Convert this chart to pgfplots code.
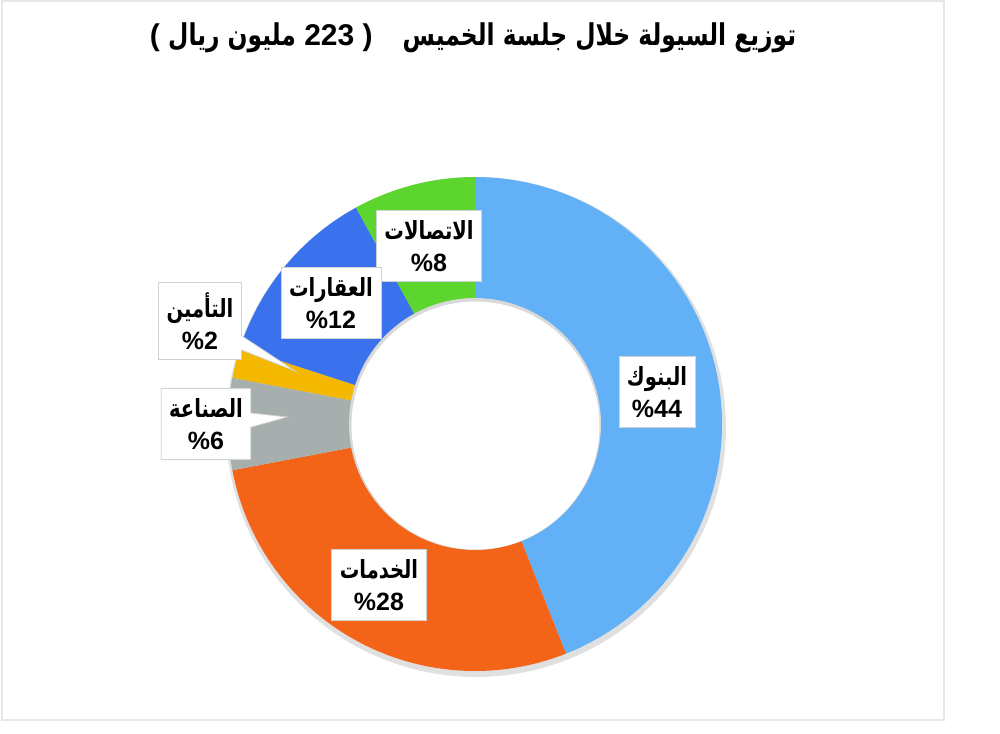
\documentclass[border=0pt]{standalone}
\usepackage{fontspec}
\usepackage{pgfplots}
\pgfplotsset{compat=1.18}
\usetikzlibrary{shapes.callouts}
\TeXXeTstate=1
\setmainfont{Liberation Sans}
\newfontfamily\arabicfont[Script=Arabic, FakeStretch=0.78]{DejaVu Sans}
\definecolor{cBank}{HTML}{62B0F6}
\definecolor{cServ}{HTML}{F36418}
\definecolor{cInd}{HTML}{A6AEAE}
\definecolor{cIns}{HTML}{F5B800}
\definecolor{cEst}{HTML}{3A72EE}
\definecolor{cTel}{HTML}{5CD62E}
\definecolor{cBorder}{HTML}{E3E8E8}
\tikzset{lbl/.style={draw=gray!35, fill=white, align=center, inner xsep=4pt, inner ysep=5pt,
    font=\fontsize{12.5}{16}\selectfont\bfseries, minimum width=36pt}}
\begin{document}
\begin{tikzpicture}
\begin{axis}[
  width=500pt, height=366.5pt, scale only axis,
  xmin=0, xmax=1000, ymin=0, ymax=733, y dir=reverse,
  hide axis, clip=false,
]
% bounding box and frame
\path[use as bounding box] (axis cs:0,0) rectangle (axis cs:1000,733);
\draw[cBorder, line width=0.8pt] (axis cs:2,1) rectangle (axis cs:944,720);
% soft shadow of the ring
\addplot[fill=gray!40, draw=none, opacity=0.6, domain=0:360, samples=120] ({476+250*cos(x)},{427-250*sin(x)}) -- cycle;
% slices (percent -> angle: 3.6 deg per percent, clockwise from 90 deg)
% Banks 44
\addplot[fill=cBank, draw=none, domain={90-3.6*44}:90, samples=80] ({475+247*cos(x)},{424-247*sin(x)}) -- (axis cs:475,424) -- cycle;
% Services 28
\addplot[fill=cServ, draw=none, domain={90-3.6*72}:{90-3.6*44}, samples=60] ({475+247*cos(x)},{424-247*sin(x)}) -- (axis cs:475,424) -- cycle;
% Industry 6
\addplot[fill=cInd, draw=none, domain={90-3.6*78}:{90-3.6*72}, samples=20] ({475+247*cos(x)},{424-247*sin(x)}) -- (axis cs:475,424) -- cycle;
% Insurance 2
\addplot[fill=cIns, draw=none, domain={90-3.6*80}:{90-3.6*78}, samples=10] ({475+247*cos(x)},{424-247*sin(x)}) -- (axis cs:475,424) -- cycle;
% Real estate 12
\addplot[fill=cEst, draw=none, domain={90-3.6*92}:{90-3.6*80}, samples=30] ({475+247*cos(x)},{424-247*sin(x)}) -- (axis cs:475,424) -- cycle;
% Telecom 8
\addplot[fill=cTel, draw=none, domain={90-3.6*100}:{90-3.6*92}, samples=20] ({475+247*cos(x)},{424-247*sin(x)}) -- (axis cs:475,424) -- cycle;
% hole
\addplot[fill=gray!30, draw=none, domain=0:360, samples=120] ({475+126*cos(x)},{424-126*sin(x)}) -- cycle;
\addplot[fill=white, draw=none, domain=0:360, samples=120] ({475.5+124*cos(x)},{425.5-124*sin(x)}) -- cycle;
% title
\node[font=\fontsize{15}{18}\selectfont\bfseries, inner sep=0pt] at (axis cs:473,38)
  {(\ {\arabicfont\beginR مليون ريال\endR}\ 223\ )\quad{\arabicfont\beginR توزيع السيولة خلال جلسة الخميس\endR}};
% labels
\node[lbl] at (axis cs:429,246) {{\arabicfont\beginR الاتصالات\endR}\\\%8};
\node[lbl] at (axis cs:331,303) {{\arabicfont\beginR العقارات\endR}\\\%12};
\node[lbl] at (axis cs:657,392) {{\arabicfont\beginR البنوك\endR}\\\%44};
\node[lbl] at (axis cs:379,585) {{\arabicfont\beginR الخدمات\endR}\\\%28};
\node[lbl, rectangle callout, callout absolute pointer={(axis cs:295,371)}] at (axis cs:200,321) {{\arabicfont\beginR التأمين\endR}\\\%2};
\node[lbl, rectangle callout, callout absolute pointer={(axis cs:287,417)}] at (axis cs:206,424) {{\arabicfont\beginR الصناعة\endR}\\\%6};
\end{axis}
\end{tikzpicture}
\end{document}
